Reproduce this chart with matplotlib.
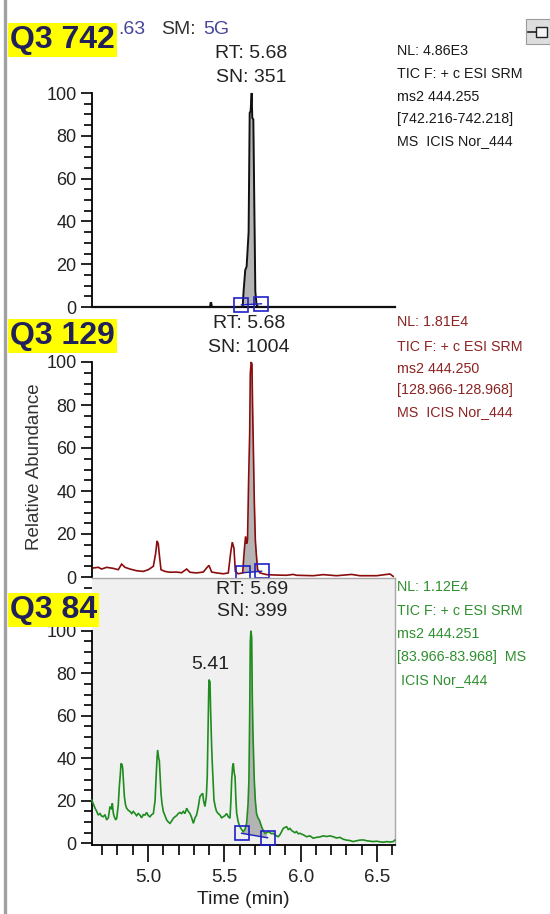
import numpy as np
import matplotlib
matplotlib.use("Agg")
import matplotlib.pyplot as plt
from matplotlib.ticker import MultipleLocator
from matplotlib.lines import Line2D
from matplotlib.patches import Rectangle

plt.rcParams['font.family'] = ['Liberation Sans', 'DejaVu Sans']

# ---------------- data ----------------
x_range = [4.633, 6.618]
y_ticks = [0, 20, 40, 60, 80, 100]
x_ticks = [5.0, 5.5, 6.0, 6.5]
x_tick_labels = ["5.0", "5.5", "6.0", "6.5"]

# Panel 1 (Q3 742)
p1_t = [4.633, 5.406, 5.410, 5.414, 5.419, 5.620, 5.626, 5.637, 5.646, 5.659,
        5.666, 5.672, 5.679, 5.683, 5.690, 5.696, 5.703, 5.711, 5.722, 6.618]
p1_v = [0, 0, 1.9, 1.9, 0, 0, 7.3, 17.3, 18.9, 35,
        90.7, 91.5, 100, 88.4, 87.6, 49.8, 7.3, 1, 0, 0]
p1_box_t = [5.612, 5.743]
p1_box_v = [1.0, 1.5]

# Panel 2 (Q3 129)
p2_t = [4.642, 4.674, 4.696, 4.729, 4.773, 4.805, 4.827, 4.849, 4.882, 4.926,
        4.969, 5.002, 5.035, 5.050, 5.059, 5.067, 5.074, 5.085, 5.111, 5.144,
        5.187, 5.220, 5.253, 5.275, 5.318, 5.362, 5.384, 5.399, 5.417, 5.449,
        5.493, 5.526, 5.541, 5.552, 5.563, 5.572, 5.591, 5.620, 5.631, 5.639,
        5.646, 5.652, 5.659, 5.666, 5.670, 5.676, 5.681, 5.685, 5.690, 5.696,
        5.703, 5.709, 5.718, 5.733, 5.777, 5.842, 5.908, 5.951, 5.973, 6.082,
        6.148, 6.235, 6.334, 6.388, 6.497, 6.585, 6.606]
p2_v = [4.2, 4.5, 3.7, 4.5, 4.0, 3.4, 6.0, 4.5, 3.7, 2.9,
        2.6, 3.4, 5.0, 11.0, 16.8, 15.5, 10.4, 3.4, 2.6, 2.2,
        2.3, 2.0, 3.7, 2.2, 1.9, 2.3, 4.2, 5.4, 2.3, 1.9,
        1.5, 1.9, 11.0, 16.2, 13.4, 2.6, 1.5, 1.9, 12.7, 18.9,
        15.5, 17.3, 45.0, 66.8, 94.6, 100, 99.0, 79.0, 60.6, 35.9,
        17.3, 11.0, 3.4, 1.9, 1.1, 0.9, 0.8, 1.2, 0.8, 0.6,
        1.1, 0.6, 1.2, 0.6, 0.6, 1.4, 0.3]
p2_box_t = [5.624, 5.744]
p2_box_v = [2.0, 2.7]

# Panel 3 (Q3 84)
p3_t = [4.631, 4.642, 4.653, 4.664, 4.674, 4.685, 4.696, 4.707, 4.718, 4.729,
        4.740, 4.751, 4.762, 4.766, 4.773, 4.779, 4.788, 4.795, 4.805, 4.812,
        4.819, 4.823, 4.830, 4.834, 4.840, 4.845, 4.853, 4.860, 4.871, 4.882,
        4.893, 4.904, 4.915, 4.925, 4.936, 4.947, 4.958, 4.969, 4.980, 4.991,
        5.002, 5.013, 5.024, 5.035, 5.046, 5.052, 5.059, 5.063, 5.070, 5.074,
        5.080, 5.085, 5.091, 5.100, 5.111, 5.122, 5.133, 5.144, 5.155, 5.166,
        5.177, 5.187, 5.198, 5.209, 5.220, 5.231, 5.242, 5.253, 5.264, 5.275,
        5.286, 5.297, 5.308, 5.318, 5.329, 5.340, 5.351, 5.358, 5.364, 5.373,
        5.382, 5.388, 5.395, 5.399, 5.406, 5.410, 5.417, 5.421, 5.428, 5.432,
        5.441, 5.449, 5.460, 5.471, 5.482, 5.493, 5.504, 5.515, 5.526, 5.537,
        5.543, 5.548, 5.554, 5.559, 5.565, 5.570, 5.576, 5.581, 5.591, 5.602,
        5.613, 5.624, 5.635, 5.646, 5.655, 5.661, 5.666, 5.670, 5.674, 5.679,
        5.683, 5.687, 5.692, 5.696, 5.703, 5.711, 5.720, 5.729, 5.738, 5.744,
        5.755, 5.766, 5.777, 5.788, 5.799, 5.810, 5.820, 5.831, 5.842, 5.853,
        5.864, 5.875, 5.886, 5.897, 5.908, 5.919, 5.930, 5.941, 5.951, 5.962,
        5.973, 5.984, 5.995, 6.017, 6.039, 6.061, 6.082, 6.104, 6.126, 6.148,
        6.170, 6.192, 6.213, 6.235, 6.257, 6.279, 6.301, 6.323, 6.344, 6.366,
        6.388, 6.410, 6.432, 6.454, 6.476, 6.497, 6.519, 6.541, 6.563, 6.585,
        6.606, 6.617]
p3_v = [20.4, 18.5, 16.5, 15.0, 13.3, 14.0, 12.8, 12.5, 13.5, 11.0,
        12.0, 17.3, 16.0, 18.8, 14.0, 12.5, 11.0, 11.8, 18.0, 26.7,
        33.0, 37.6, 37.0, 35.3, 28.0, 22.0, 18.0, 16.5, 15.5, 15.0,
        14.0, 15.0, 14.0, 13.0, 14.0, 13.3, 12.0, 13.5, 13.3, 14.5,
        13.0, 12.5, 13.5, 14.0, 20.0, 29.8, 40.0, 43.9, 40.0, 39.0,
        30.0, 23.5, 19.0, 15.0, 13.0, 11.0, 10.0, 9.4, 10.5, 11.8,
        12.5, 13.0, 14.0, 14.5, 14.0, 15.0, 14.0, 16.5, 15.0, 14.0,
        12.0, 9.4, 12.0, 13.3, 17.0, 22.0, 23.0, 23.5, 20.0, 17.3,
        22.0, 31.4, 60.0, 77.0, 76.0, 62.7, 45.0, 37.6, 27.0, 20.4,
        17.0, 15.0, 14.0, 13.3, 12.0, 12.5, 13.0, 14.0, 12.5, 11.8,
        20.0, 29.8, 36.0, 37.6, 33.0, 31.4, 20.0, 14.0, 10.0, 7.8,
        6.5, 5.5, 6.5, 9.4, 18.0, 29.8, 60.0, 95.0, 100, 97.0,
        70.0, 53.0, 40.0, 29.8, 20.0, 14.0, 12.0, 11.0, 9.0, 7.8,
        6.0, 4.7, 5.0, 5.5, 5.0, 4.5, 4.7, 4.0, 3.5, 3.1,
        4.0, 5.5, 7.0, 7.5, 7.8, 6.5, 7.0, 6.0, 5.5, 5.0,
        5.5, 4.5, 4.7, 4.0, 3.1, 3.5, 2.4, 2.8, 3.0, 3.5,
        3.2, 3.5, 3.1, 2.5, 2.8, 1.9, 1.5, 1.3, 0.8, 1.2,
        1.5, 1.6, 1.2, 1.0, 0.8, 1.0, 0.7, 0.5, 0.8, 0.6,
        0.8, 1.5]
p3_box_t = [5.613, 5.783]
p3_box_v = [4.7, 2.6]

# Text content
header_rt = ".63"
header_sm = ("SM:", "5G")
labels = ["Q3 742", "Q3 129", "Q3 84"]
rt_texts = [("RT: 5.68", "SN: 351"), ("RT: 5.68", "SN: 1004"), ("RT: 5.69", "SN: 399")]
peak_label = ("5.41", 5.41)
info_texts = [
    ["NL: 4.86E3", "TIC F: + c ESI SRM", "ms2 444.255", "[742.216-742.218]", "MS  ICIS Nor_444"],
    ["NL: 1.81E4", "TIC F: + c ESI SRM", "ms2 444.250", "[128.966-128.968]", "MS  ICIS Nor_444"],
    ["NL: 1.12E4", "TIC F: + c ESI SRM", "ms2 444.251", "[83.966-83.968]  MS", " ICIS Nor_444"],
]

# ---------------- layout ----------------
W, H = 550, 914
def fx(x):
    return x / W
def fy(y):
    return 1 - y / H

fig = plt.figure(figsize=(W / 100, H / 100), dpi=100)
fig.patch.set_facecolor('white')

trace_colors = ['#111111', '#8a0d0d', '#1f8c1f']
info_colors = ['#1a1a1a', '#8c2323', '#2f8f2f']

ax1 = fig.add_axes([fx(92), fy(307), fx(395) - fx(92), (307 - 93) / H])
ax2 = fig.add_axes([fx(92), fy(577), fx(395) - fx(92), (577 - 362) / H])
ax3 = fig.add_axes([fx(92), fy(845), fx(395) - fx(92), (845 - 578) / H])
axes = [ax1, ax2, ax3]

data = [(p1_t, p1_v, p1_box_t, p1_box_v),
        (p2_t, p2_v, p2_box_t, p2_box_v),
        (p3_t, p3_v, p3_box_t, p3_box_v)]

for i, (ax, (t, v, bt, bv)) in enumerate(zip(axes, data)):
    t = np.array(t)
    v = np.array(v)
    ax.set_xlim(*x_range)
    if i < 2:
        ax.set_ylim(0, 100)
        ax.set_facecolor('none')
    else:
        ax.set_ylim(-0.8, 124.85)
        ax.set_facecolor('#f0f0f0')
    base = np.interp(t, bt, bv)
    mask = (t >= bt[0]) & (t <= bt[1]) & (v >= base)
    ax.fill_between(t, base, v, where=mask, color='#b4b4b4', linewidth=0,
                    interpolate=True, zorder=2)
    ax.plot(t, v, color=trace_colors[i], lw=1.4 if i == 0 else 1.2,
            clip_on=False, zorder=3, solid_joinstyle='miter')
    ax.plot(bt, bv, color='#2020c0', lw=1.0, zorder=4, clip_on=False)
    ax.plot(bt, bv, linestyle='none', marker='s', markersize=9.5,
            markerfacecolor='none', markeredgecolor='#2020c8',
            markeredgewidth=1.2, zorder=5, clip_on=False)

    ax.set_yticks(y_ticks)
    ax.yaxis.set_minor_locator(MultipleLocator(5))
    ax.tick_params(axis='y', which='major', direction='out', length=8, width=1.2,
                   labelsize=13, pad=3, colors='black', labelcolor='#222222')
    ax.tick_params(axis='y', which='minor', direction='out', length=6, width=1.2)
    ax.spines['left'].set_color('black')
    ax.spines['left'].set_linewidth(1.3)
    if i == 0:
        ax.spines['left'].set_bounds(0, 100)
        ax.spines['bottom'].set_linewidth(1.6)
        ax.spines['bottom'].set_color('black')
        for s in ['top', 'right']:
            ax.spines[s].set_visible(False)
        ax.set_xticks([])
    elif i == 1:
        for s in ['top', 'right', 'bottom']:
            ax.spines[s].set_visible(False)
        ax.set_xticks([])
    else:
        ax.spines['left'].set_bounds(-0.8, 100)
        for s in ['top', 'right']:
            ax.spines[s].set_color('#a8a8a8')
            ax.spines[s].set_linewidth(1.0)
        ax.spines['bottom'].set_color('black')
        ax.spines['bottom'].set_linewidth(1.3)
        ax.set_xticks(x_ticks)
        ax.set_xticklabels(x_tick_labels)
        ax.xaxis.set_minor_locator(MultipleLocator(0.1))
        ax.tick_params(axis='x', which='major', direction='out', length=12, width=1.2,
                       labelsize=13.5, pad=5, labelcolor='#222222')
        ax.tick_params(axis='x', which='minor', direction='out', length=7, width=1.2)
        ax.set_xlabel("Time (min)", fontsize=14, color='#222222', labelpad=4)

# peak label
ax3.text(5.41, 80, peak_label[0], ha='center', va='bottom', fontsize=14, color='#222222')

# RT / SN labels
rt_pos = [(251, 53, 77), (249, 323, 348), (252, 589, 612)]
for (rt, sn), (x, y1, y2) in zip(rt_texts, rt_pos):
    fig.text(fx(x), fy(y1), rt, ha='center', va='center', fontsize=14, color='#222222')
    fig.text(fx(x), fy(y2), sn, ha='center', va='center', fontsize=14, color='#222222')

# info texts
info_y = [[51, 74, 97, 119, 141], [322, 347, 369, 390, 412], [587, 611, 634, 657, 680]]
for lines, ys, c in zip(info_texts, info_y, info_colors):
    for s, y in zip(lines, ys):
        fig.text(fx(397), fy(y), s, ha='left', va='center', fontsize=10.3, color=c)

# y label
fig.text(fx(35), fy(467), "Relative Abundance", rotation=90, ha='center', va='center',
         fontsize=13.5, color='#333333')

# header line (visible part right of the label)
fig.text(fx(118), fy(30), header_rt, ha='left', va='center', fontsize=14, color='#45459a')
fig.text(fx(161), fy(30), header_sm[0], ha='left', va='center', fontsize=14, color='#333333')
fig.text(fx(203), fy(30), header_sm[1], ha='left', va='center', fontsize=14, color='#45459a')

# Yellow labels
label_pos = [(10, 40), (10, 336), (10, 610)]
for s, (x, y) in zip(labels, label_pos):
    fig.text(fx(x), fy(y), s, ha='left', va='center', fontsize=23, fontweight='bold',
             color='#20205a', zorder=10,
             bbox=dict(boxstyle='square,pad=0.06', facecolor='#ffff00', edgecolor='none'))

# left border line
fig.add_artist(Line2D([fx(4.5), fx(4.5)], [0, 1], color='#a0a0a0', lw=2.4))

# pin icon (top right)
fig.add_artist(Rectangle((fx(526), fy(44)), fx(550) - fx(526), (44 - 19) / H,
                         facecolor='#dedede', edgecolor='#9a9a9a', lw=0.8))
fig.add_artist(Line2D([fx(528), fx(536)], [fy(32), fy(32)], color='#222222', lw=1.2))
fig.add_artist(Rectangle((fx(536), fy(37)), fx(547) - fx(536), (37 - 27) / H,
                         facecolor='#f4f4f4', edgecolor='#222222', lw=1.0))

fig.savefig("out.png", dpi=100)
